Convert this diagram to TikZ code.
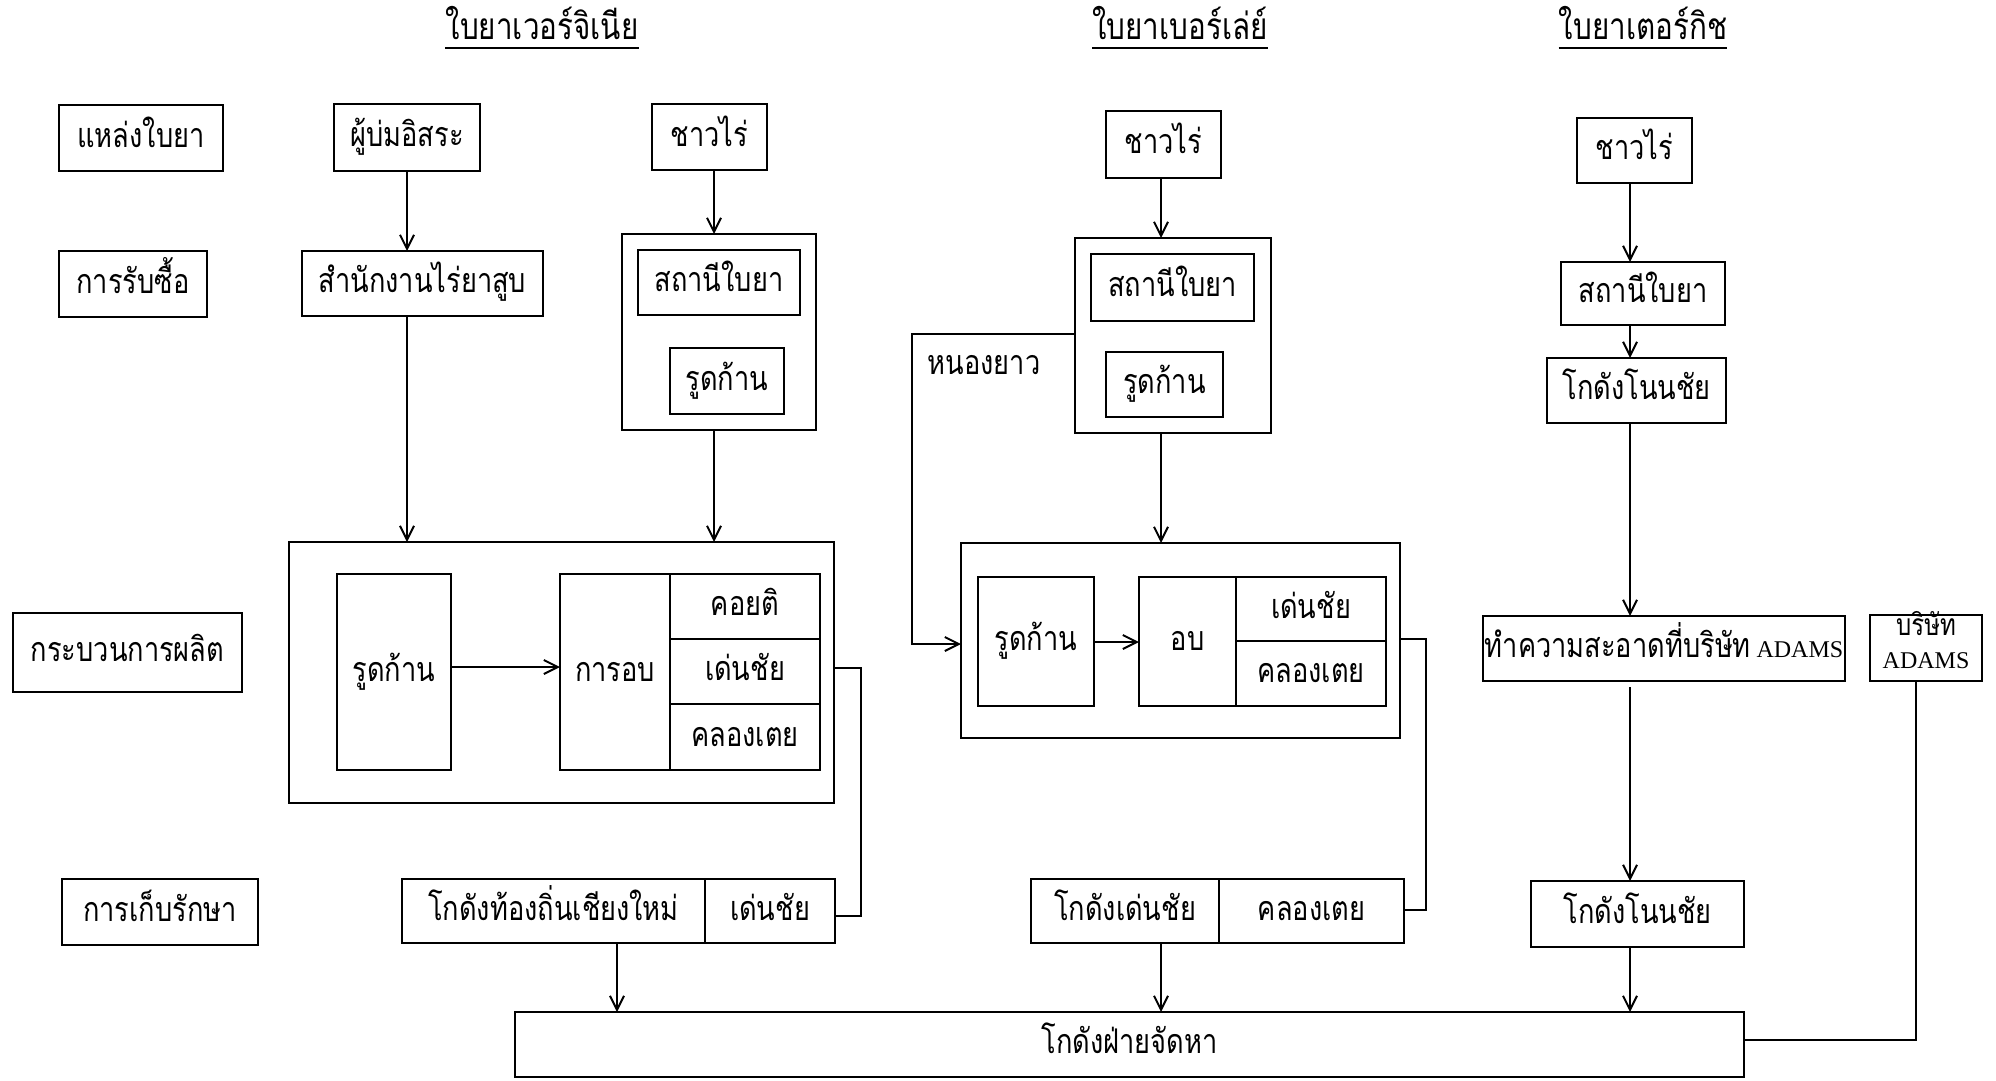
\documentclass[tikz,border=0pt]{standalone}
\usepackage{fontspec}
\usetikzlibrary{arrows.meta}
\newfontfamily\thaifont[Script=Thai,FakeStretch=0.8]{Loma}
\newfontfamily\latinfont{Liberation Serif}
\newcommand\adams{{\latinfont\fontsize{24}{26}\selectfont ADAMS}}
\tikzset{
  tx/.style={text height=25pt, text depth=7pt},
  bx/.style={draw, line width=2.6pt, inner sep=0pt, outer sep=0pt, tx},
  conn/.style={line width=2pt},
  arr/.style={line width=2pt, -{Straight Barb[length=14pt,width=14pt,line width=2pt]}},
  ttl/.style={inner sep=0pt, tx, font=\thaifont\fontsize{37}{40}\selectfont},
}
\newcommand\bx[6]{\node[bx, minimum width={(#4-#2)*1pt}, minimum height={(#5-#3)*1pt}] (#1) at ({(#2+#4)/2},{(#3+#5)/2}) {#6};}
\begin{document}
\begin{tikzpicture}[x=1pt,y=-1pt,font=\thaifont\fontsize{34}{38}\selectfont]
\useasboundingbox[fill=white] (0,0) rectangle (1996,1080);
% titles
\node[ttl] (t1) at (542,30) {ใบยาเวอร์จิเนีย};
\node[ttl] (t2) at (1180,30) {ใบยาเบอร์เล่ย์};
\node[ttl] (t3) at (1643,30) {ใบยาเตอร์กิช};
\foreach \t in {t1,t2,t3}
  \draw[line width=2.4pt] ([yshift=-2pt]\t.south west) -- ([yshift=-2pt]\t.south east);
% row labels
\bx{r1}{59}{105}{223}{171}{แหล่งใบยา}
\bx{r2}{59}{251}{207}{317}{การรับซื้อ}
\bx{r3}{13}{613}{242}{692}{กระบวนการผลิต}
\bx{r4}{62}{879}{258}{945}{การเก็บรักษา}
% Virginia
\bx{vcur}{334}{104}{480}{171}{ผู้บ่มอิสระ}
\bx{vfarm}{652}{104}{767}{170}{ชาวไร่}
\bx{voff}{302}{251}{543}{316}{สำนักงานไร่ยาสูบ}
\bx{vbuy}{622}{234}{816}{430}{}
\bx{vst}{638}{250}{800}{315}{สถานีใบยา}
\bx{vrud}{670}{348}{784}{414}{รูดก้าน}
\bx{vprod}{289}{542}{834}{803}{}
\bx{vprud}{337}{574}{451}{770}{รูดก้าน}
\bx{vbake}{560}{574}{670}{770}{การอบ}
\bx{vb1}{670}{574}{820}{639}{คอยติ}
\bx{vb2}{670}{639}{820}{704}{เด่นชัย}
\bx{vb3}{670}{704}{820}{770}{คลองเตย}
\bx{vsto}{402}{879}{705}{943}{โกดังท้องถิ่นเชียงใหม่}
\bx{vsto2}{705}{879}{835}{943}{เด่นชัย}
% Burley
\bx{bfarm}{1106}{111}{1221}{178}{ชาวไร่}
\bx{bbuy}{1075}{238}{1271}{433}{}
\bx{bst}{1091}{254}{1254}{321}{สถานีใบยา}
\bx{brud}{1106}{352}{1223}{417}{รูดก้าน}
\bx{bprod}{961}{543}{1400}{738}{}
\bx{bprud}{978}{577}{1094}{706}{รูดก้าน}
\bx{bbake}{1139}{577}{1236}{706}{อบ}
\bx{bb1}{1236}{577}{1386}{641}{เด่นชัย}
\bx{bb2}{1236}{641}{1386}{706}{คลองเตย}
\bx{bsto}{1031}{879}{1219}{943}{โกดังเด่นชัย}
\bx{bsto2}{1219}{879}{1404}{943}{คลองเตย}
\node[inner sep=0pt, tx] (nong) at (984,365) {หนองยาว};
% Turkish
\bx{tfarm}{1577}{118}{1692}{183}{ชาวไร่}
\bx{tst}{1561}{262}{1725}{325}{สถานีใบยา}
\bx{tgo}{1547}{358}{1726}{423}{โกดังโนนชัย}
\bx{tclean}{1483}{616}{1845}{681}{ทำความสะอาดที่บริษัท\,\adams}
\bx{tadams}{1870}{615}{1982}{681}{}
\node[inner sep=0pt, text height=20pt, text depth=4pt, font=\thaifont\fontsize{30}{32}\selectfont] (tadt1) at (1926,627) {บริษัท};
\node[inner sep=0pt] (tadt2) at (1926,661) {\adams};
\bx{tsto}{1531}{881}{1744}{947}{โกดังโนนชัย}
% bottom
\bx{supply}{515}{1012}{1744}{1077}{โกดังฝ่ายจัดหา}
% Virginia connectors
\draw[arr] (vcur.south -| 407,0) -- (voff.north -| 407,0);
\draw[arr] (vfarm.south -| 714,0) -- (vbuy.north -| 714,0);
\draw[arr] (voff.south -| 407,0) -- (vprod.north -| 407,0);
\draw[arr] (vbuy.south -| 714,0) -- (vprod.north -| 714,0);
\draw[arr] (vprud.east |- 0,667) -- (vbake.west |- 0,667);
\draw[conn] (vprod.east |- 0,668) -- (861,668) -- (861,916) -- (vsto2.east |- 0,916);
\draw[arr] (vsto.south -| 617,0) -- (supply.north -| 617,0);
% Burley connectors
\draw[arr] (bfarm.south -| 1161,0) -- (bbuy.north -| 1161,0);
\draw[arr] (bbuy.south -| 1161,0) -- (bprod.north -| 1161,0);
\draw[arr] (bprud.east |- 0,642) -- (bbake.west |- 0,642);
\draw[conn] (bprod.east |- 0,639) -- (1426,639) -- (1426,910) -- (bsto2.east |- 0,910);
\draw[arr] (bsto.south -| 1161,0) -- (supply.north -| 1161,0);
\draw[arr] (bbuy.west |- 0,334) -- (912,334) -- (912,644) -- (bprod.west |- 0,644);
% Turkish connectors
\draw[arr] (tfarm.south -| 1630,0) -- (tst.north -| 1630,0);
\draw[arr] (tst.south -| 1630,0) -- (tgo.north -| 1630,0);
\draw[arr] (tgo.south -| 1630,0) -- (tclean.north -| 1630,0);
\draw[arr] ([yshift=-6pt]tclean.south -| 1630,0) -- (tsto.north -| 1630,0);
\draw[arr] (tsto.south -| 1630,0) -- (supply.north -| 1630,0);
\draw[conn] (supply.east |- 0,1040) -- (1916,1040) -- (tadams.south -| 1916,0);
\end{tikzpicture}
\end{document}
